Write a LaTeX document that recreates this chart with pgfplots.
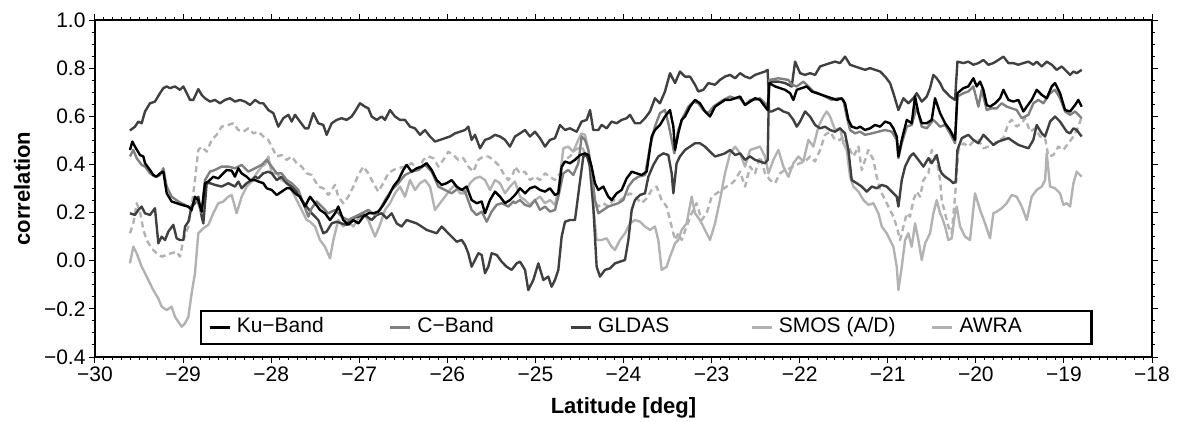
\documentclass[border=0pt]{standalone}
\usepackage{fontspec}
\setmainfont{Liberation Sans}
\usepackage{pgfplots}
\pgfplotsset{compat=1.18}
\definecolor{cK}{gray}{0}
\definecolor{cC}{gray}{0.5}
\definecolor{cG}{gray}{0.25}
\definecolor{cS}{gray}{0.7}
\begin{document}
\begin{tikzpicture}
\useasboundingbox (-95pt,-64pt) rectangle (1086pt,357pt);
\begin{axis}[
  at={(0pt,0pt)}, anchor=south west,
  scale only axis, width=1057pt, height=337pt,
  xmin=-30, xmax=-18, ymin=-0.4, ymax=1.0,
  xtick={-30,-29,...,-18},
  xticklabels={−30,−29,−28,−27,−26,−25,−24,−23,−22,−21,−20,−19,−18},
  ytick={-0.4,-0.2,0,0.2,0.4,0.6,0.8,1.0},
  yticklabels={−0.4,−0.2,0.0,0.2,0.4,0.6,0.8,1.0},
  minor x tick num=9, minor y tick num=3,
  tick align=outside, tick pos=both,
  major tick length=6pt, minor tick length=3pt,
  every tick/.style={black, line width=1pt},
  axis line style={line width=2.2pt},
  ticklabel style={font=\fontsize{21}{25}\selectfont},
  xlabel={Latitude [deg]},
  ylabel={correlation},
  xlabel style={font=\bfseries\fontsize{22}{26}\selectfont, at={(axis description cs:0.5,0)}, anchor=base, yshift=-56pt},
  ylabel style={font=\bfseries\fontsize{22}{26}\selectfont, at={(axis description cs:-0.0691,0.5)}, anchor=center},
  legend columns=5,
  legend cell align=left,
  legend image code/.code={\draw[#1, line width=3pt] (0pt,0pt) -- (20pt,0pt); \path (23pt,0pt);},
  legend style={at={(axis description cs:0.0993,0.0356)}, anchor=south west,
    draw=black, line width=2.2pt, inner xsep=7pt, inner ysep=4pt,
    font=\fontsize{21}{25}\selectfont, /tikz/column sep=0pt,
    nodes={inner sep=3pt, text height=15pt, text depth=4pt}},
  every axis plot/.append style={line width=2.4pt, line join=round},
]
% AWRA / SMOS light grey solid
\addplot[cS, forget plot] coordinates {(-29.603,-0.011) (-29.565,0.058) (-29.527,0.031) (-29.470,-0.025) (-29.432,-0.052) (-29.395,-0.080) (-29.338,-0.122) (-29.281,-0.157) (-29.243,-0.191) (-29.186,-0.205) (-29.130,-0.191) (-29.092,-0.233) (-29.054,-0.254) (-29.016,-0.274) (-28.978,-0.260) (-28.940,-0.233) (-28.903,-0.136) (-28.865,-0.052) (-28.827,0.114) (-28.770,0.135) (-28.713,0.149) (-28.657,0.197) (-28.600,0.239) (-28.543,0.246) (-28.486,0.266) (-28.448,0.273) (-28.392,0.197) (-28.335,0.266) (-28.278,0.308) (-28.221,0.329) (-28.165,0.363) (-28.108,0.391) (-28.070,0.400) (-28.032,0.433) (-27.994,0.363) (-27.937,0.363) (-27.881,0.335) (-27.824,0.322) (-27.767,0.294) (-27.710,0.252) (-27.654,0.211) (-27.597,0.169) (-27.559,0.162) (-27.502,0.142) (-27.446,0.086) (-27.389,0.058) (-27.332,0.010) (-27.294,0.086) (-27.238,0.169) (-27.181,0.142) (-27.124,0.162) (-27.067,0.142) (-27.010,0.176) (-26.954,0.197) (-26.897,0.169) (-26.821,0.100) (-26.765,0.149) (-26.708,0.211) (-26.651,0.239) (-26.594,0.280) (-26.537,0.308) (-26.481,0.266) (-26.424,0.335) (-26.367,0.294) (-26.310,0.322) (-26.254,0.335) (-26.197,0.308) (-26.140,0.211) (-26.083,0.239) (-26.027,0.266) (-25.970,0.294) (-25.913,0.315) (-25.856,0.280) (-25.799,0.280) (-25.743,0.322) (-25.686,0.342) (-25.629,0.349) (-25.572,0.335) (-25.516,0.294) (-25.459,0.335) (-25.402,0.322) (-25.345,0.280) (-25.289,0.308) (-25.232,0.329) (-25.175,0.266) (-25.118,0.252) (-25.062,0.232) (-25.005,0.252) (-24.948,0.266) (-24.891,0.239) (-24.835,0.252) (-24.778,0.232) (-24.740,0.294) (-24.683,0.467) (-24.627,0.474) (-24.570,0.453) (-24.513,0.502) (-24.475,0.529) (-24.437,0.523) (-24.399,0.460) (-24.362,0.294) (-24.305,0.086) (-24.248,0.086) (-24.191,0.093) (-24.135,0.058) (-24.097,0.045) (-24.040,0.086) (-23.983,0.114) (-23.926,0.155) (-23.870,0.169) (-23.813,0.162) (-23.756,0.142) (-23.699,0.128) (-23.643,0.142) (-23.605,0.086) (-23.567,-0.038) (-23.510,-0.025) (-23.472,0.017) (-23.415,0.072) (-23.378,0.086) (-23.340,0.128) (-23.283,0.155) (-23.226,0.266) (-23.188,0.197) (-23.132,0.169) (-23.075,0.128) (-23.018,0.086) (-22.961,0.155) (-22.905,0.252) (-22.848,0.363) (-22.790,0.446) (-22.733,0.474) (-22.677,0.446) (-22.620,0.391) (-22.563,0.460) (-22.506,0.467) (-22.450,0.474) (-22.393,0.433) (-22.355,0.363) (-22.298,0.419) (-22.241,0.460) (-22.185,0.391) (-22.128,0.349) (-22.071,0.405) (-22.014,0.433) (-21.958,0.412) (-21.901,0.502) (-21.844,0.474) (-21.787,0.557) (-21.731,0.599) (-21.693,0.620) (-21.655,0.599) (-21.598,0.543) (-21.541,0.550) (-21.504,0.488) (-21.466,0.460) (-21.428,0.349) (-21.390,0.308) (-21.333,0.287) (-21.276,0.252) (-21.220,0.232) (-21.163,0.239) (-21.106,0.197) (-21.068,0.142) (-21.012,0.114) (-20.974,0.086) (-20.936,0.058) (-20.898,-0.025) (-20.879,-0.122) (-20.841,-0.025) (-20.803,0.086) (-20.766,0.114) (-20.728,0.058) (-20.690,0.155) (-20.652,0.086) (-20.614,0.003) (-20.576,0.072) (-20.520,0.114) (-20.482,0.197) (-20.444,0.252) (-20.406,0.197) (-20.387,0.183) (-20.349,0.142) (-20.312,0.086) (-20.274,0.093) (-20.236,0.197) (-20.217,0.225) (-20.179,0.142) (-20.122,0.100) (-20.066,0.086) (-20.009,0.280) (-19.952,0.211) (-19.895,0.155) (-19.839,0.093) (-19.801,0.197) (-19.763,0.204) (-19.706,0.218) (-19.649,0.239) (-19.593,0.273) (-19.536,0.266) (-19.479,0.225) (-19.422,0.169) (-19.366,0.266) (-19.309,0.294) (-19.252,0.308) (-19.214,0.335) (-19.195,0.446) (-19.157,0.308) (-19.101,0.301) (-19.044,0.280) (-19.006,0.232) (-18.968,0.239) (-18.930,0.225) (-18.892,0.322) (-18.855,0.370) (-18.798,0.349)};
% SMOS light grey dashed
\addplot[cS, dash pattern=on 6pt off 4pt, forget plot] coordinates {(-29.603,0.114) (-29.565,0.155) (-29.527,0.239) (-29.489,0.204) (-29.451,0.128) (-29.413,0.086) (-29.357,0.051) (-29.300,0.031) (-29.243,0.017) (-29.186,0.024) (-29.130,0.031) (-29.073,0.038) (-29.035,0.017) (-28.997,0.086) (-28.940,0.142) (-28.903,0.225) (-28.865,0.335) (-28.827,0.460) (-28.789,0.474) (-28.732,0.453) (-28.675,0.502) (-28.619,0.523) (-28.562,0.557) (-28.486,0.564) (-28.429,0.571) (-28.373,0.543) (-28.316,0.536) (-28.259,0.550) (-28.202,0.529) (-28.146,0.536) (-28.089,0.516) (-28.032,0.502) (-27.994,0.474) (-27.937,0.433) (-27.881,0.439) (-27.824,0.419) (-27.767,0.433) (-27.710,0.405) (-27.654,0.391) (-27.597,0.363) (-27.540,0.356) (-27.465,0.308) (-27.408,0.301) (-27.351,0.273) (-27.275,0.315) (-27.238,0.266) (-27.181,0.239) (-27.124,0.266) (-27.067,0.308) (-27.010,0.356) (-26.954,0.391) (-26.897,0.363) (-26.840,0.322) (-26.783,0.287) (-26.727,0.322) (-26.670,0.363) (-26.613,0.377) (-26.556,0.384) (-26.481,0.391) (-26.405,0.405) (-26.329,0.377) (-26.273,0.419) (-26.216,0.433) (-26.159,0.426) (-26.102,0.391) (-26.045,0.419) (-25.989,0.453) (-25.932,0.439) (-25.875,0.419) (-25.818,0.426) (-25.762,0.391) (-25.705,0.370) (-25.648,0.419) (-25.591,0.433) (-25.535,0.433) (-25.478,0.419) (-25.421,0.398) (-25.364,0.363) (-25.308,0.335) (-25.251,0.363) (-25.232,0.391) (-25.175,0.363) (-25.118,0.370) (-25.062,0.335) (-25.005,0.349) (-24.948,0.335) (-24.891,0.363) (-24.835,0.349) (-24.778,0.335) (-24.721,0.363) (-24.664,0.419) (-24.608,0.433) (-24.551,0.460) (-24.475,0.474) (-24.437,0.446) (-24.399,0.439) (-24.343,0.252) (-24.286,0.225) (-24.229,0.239) (-24.173,0.225) (-24.116,0.252) (-24.059,0.246) (-23.983,0.266) (-23.926,0.280) (-23.870,0.266) (-23.794,0.239) (-23.737,0.259) (-23.680,0.294) (-23.624,0.308) (-23.567,0.252) (-23.510,0.225) (-23.453,0.142) (-23.415,0.086) (-23.378,0.114) (-23.340,0.086) (-23.283,0.142) (-23.226,0.197) (-23.170,0.239) (-23.113,0.169) (-23.056,0.197) (-22.999,0.266) (-22.942,0.280) (-22.886,0.294) (-22.829,0.308) (-22.790,0.315) (-22.733,0.335) (-22.677,0.370) (-22.620,0.308) (-22.563,0.391) (-22.506,0.363) (-22.450,0.433) (-22.393,0.363) (-22.336,0.335) (-22.279,0.322) (-22.223,0.363) (-22.166,0.377) (-22.109,0.384) (-22.052,0.398) (-21.995,0.405) (-21.939,0.412) (-21.882,0.433) (-21.825,0.412) (-21.768,0.460) (-21.712,0.523) (-21.655,0.536) (-21.598,0.502) (-21.541,0.502) (-21.504,0.516) (-21.447,0.474) (-21.390,0.433) (-21.333,0.474) (-21.295,0.377) (-21.220,0.460) (-21.163,0.419) (-21.125,0.349) (-21.087,0.294) (-21.049,0.266) (-20.993,0.225) (-20.936,0.183) (-20.898,0.142) (-20.860,0.086) (-20.822,0.142) (-20.784,0.197) (-20.747,0.183) (-20.709,0.252) (-20.671,0.287) (-20.633,0.266) (-20.595,0.335) (-20.538,0.363) (-20.501,0.460) (-20.444,0.419) (-20.406,0.335) (-20.387,0.252) (-20.349,0.197) (-20.312,0.142) (-20.274,0.114) (-20.236,0.266) (-20.198,0.460) (-20.141,0.488) (-20.085,0.474) (-20.028,0.495) (-19.971,0.502) (-19.914,0.467) (-19.857,0.474) (-19.801,0.481) (-19.744,0.502) (-19.687,0.509) (-19.630,0.571) (-19.593,0.585) (-19.536,0.557) (-19.479,0.571) (-19.441,0.592) (-19.384,0.536) (-19.328,0.550) (-19.271,0.516) (-19.214,0.509) (-19.176,0.433) (-19.120,0.439) (-19.063,0.474) (-19.006,0.460) (-18.949,0.488) (-18.892,0.516) (-18.836,0.557) (-18.798,0.599)};
% dark grey, lower then upper
\addplot[cG, forget plot] coordinates {(-29.603,0.197) (-29.546,0.190) (-29.508,0.211) (-29.470,0.225) (-29.432,0.197) (-29.376,0.190) (-29.319,0.218) (-29.281,0.072) (-29.243,0.100) (-29.205,0.086) (-29.167,0.121) (-29.111,0.149) (-29.073,0.093) (-29.035,0.086) (-28.997,0.086) (-28.978,0.142) (-28.940,0.162) (-28.903,0.225) (-28.865,0.239) (-28.827,0.266) (-28.789,0.183) (-28.770,0.155) (-28.732,0.322) (-28.694,0.322) (-28.638,0.315) (-28.562,0.308) (-28.486,0.322) (-28.411,0.308) (-28.373,0.329) (-28.335,0.301) (-28.278,0.322) (-28.221,0.335) (-28.183,0.349) (-28.146,0.342) (-28.089,0.363) (-28.032,0.370) (-27.994,0.363) (-27.937,0.335) (-27.881,0.349) (-27.824,0.322) (-27.767,0.308) (-27.710,0.287) (-27.654,0.252) (-27.597,0.225) (-27.540,0.197) (-27.465,0.169) (-27.408,0.114) (-27.370,0.121) (-27.313,0.155) (-27.256,0.162) (-27.200,0.155) (-27.143,0.149) (-27.086,0.176) (-27.010,0.183) (-26.935,0.190) (-26.859,0.169) (-26.802,0.190) (-26.746,0.197) (-26.689,0.176) (-26.632,0.197) (-26.575,0.155) (-26.519,0.142) (-26.462,0.169) (-26.405,0.162) (-26.348,0.155) (-26.292,0.142) (-26.235,0.128) (-26.178,0.121) (-26.121,0.114) (-26.064,0.142) (-26.008,0.121) (-25.951,0.100) (-25.894,0.079) (-25.837,0.086) (-25.799,0.065) (-25.762,0.031) (-25.724,-0.025) (-25.686,0.003) (-25.648,0.031) (-25.610,0.024) (-25.572,-0.052) (-25.535,-0.025) (-25.497,0.031) (-25.440,0.024) (-25.383,-0.004) (-25.327,-0.025) (-25.270,-0.038) (-25.213,-0.011) (-25.175,-0.004) (-25.118,-0.038) (-25.081,-0.122) (-25.024,-0.080) (-24.967,-0.011) (-24.910,-0.080) (-24.854,-0.066) (-24.816,-0.108) (-24.778,-0.080) (-24.740,-0.038) (-24.702,0.100) (-24.664,0.162) (-24.608,0.169) (-24.551,0.169) (-24.494,0.329) (-24.456,0.433) (-24.418,0.439) (-24.380,0.391) (-24.343,0.225) (-24.305,-0.025) (-24.267,-0.066) (-24.210,-0.038) (-24.154,-0.032) (-24.097,-0.011) (-24.040,-0.004) (-23.983,0.003) (-23.945,0.086) (-23.907,0.211) (-23.870,0.252) (-23.813,0.273) (-23.756,0.280) (-23.718,0.349) (-23.661,0.398) (-23.605,0.433) (-23.548,0.446) (-23.491,0.439) (-23.453,0.363) (-23.434,0.280) (-23.397,0.405) (-23.359,0.433) (-23.302,0.460) (-23.245,0.474) (-23.188,0.488) (-23.132,0.488) (-23.075,0.474) (-23.018,0.453) (-22.961,0.433) (-22.905,0.439) (-22.848,0.446) (-22.790,0.460) (-22.733,0.439) (-22.677,0.446) (-22.620,0.419) (-22.563,0.433) (-22.506,0.419) (-22.450,0.412) (-22.393,0.405) (-22.363,0.419) (-22.347,0.744) (-22.298,0.744) (-22.241,0.744) (-22.166,0.738) (-22.090,0.724) (-22.052,0.827) (-21.995,0.779) (-21.939,0.772) (-21.882,0.779) (-21.825,0.772) (-21.768,0.807) (-21.712,0.814) (-21.655,0.821) (-21.598,0.827) (-21.541,0.821) (-21.485,0.848) (-21.428,0.814) (-21.371,0.807) (-21.314,0.800) (-21.258,0.793) (-21.201,0.800) (-21.144,0.793) (-21.087,0.786) (-21.030,0.765) (-20.974,0.738) (-20.936,0.696) (-20.879,0.626) (-20.822,0.675) (-20.766,0.654) (-20.709,0.675) (-20.671,0.696) (-20.614,0.661) (-20.557,0.682) (-20.520,0.717) (-20.482,0.772) (-20.444,0.758) (-20.406,0.738) (-20.368,0.710) (-20.330,0.696) (-20.293,0.682) (-20.236,0.668) (-20.209,0.827) (-20.141,0.821) (-20.085,0.827) (-20.028,0.814) (-19.971,0.821) (-19.914,0.834) (-19.857,0.814) (-19.801,0.821) (-19.744,0.834) (-19.687,0.848) (-19.630,0.821) (-19.574,0.821) (-19.517,0.814) (-19.460,0.821) (-19.403,0.827) (-19.347,0.814) (-19.309,0.827) (-19.252,0.807) (-19.195,0.827) (-19.138,0.814) (-19.082,0.793) (-19.025,0.807) (-18.968,0.786) (-18.930,0.772) (-18.892,0.786) (-18.855,0.779) (-18.798,0.793)};
% GLDAS dark grey, upper then lower
\addplot[cG, forget plot] coordinates {(-29.603,0.541) (-29.546,0.557) (-29.508,0.578) (-29.470,0.571) (-29.432,0.620) (-29.376,0.654) (-29.319,0.661) (-29.262,0.696) (-29.224,0.717) (-29.186,0.724) (-29.148,0.717) (-29.092,0.724) (-29.035,0.710) (-28.997,0.724) (-28.959,0.696) (-28.921,0.668) (-28.884,0.668) (-28.827,0.713) (-28.789,0.689) (-28.751,0.675) (-28.694,0.661) (-28.638,0.668) (-28.581,0.654) (-28.524,0.668) (-28.467,0.675) (-28.411,0.661) (-28.354,0.668) (-28.297,0.661) (-28.240,0.647) (-28.183,0.668) (-28.127,0.654) (-28.089,0.654) (-28.032,0.626) (-27.975,0.613) (-27.919,0.557) (-27.862,0.592) (-27.805,0.606) (-27.767,0.578) (-27.729,0.606) (-27.673,0.578) (-27.616,0.550) (-27.578,0.550) (-27.521,0.613) (-27.465,0.571) (-27.408,0.564) (-27.370,0.523) (-27.313,0.571) (-27.256,0.585) (-27.200,0.592) (-27.143,0.585) (-27.086,0.599) (-27.048,0.620) (-26.992,0.654) (-26.935,0.640) (-26.897,0.633) (-26.859,0.599) (-26.802,0.585) (-26.746,0.599) (-26.708,0.585) (-26.651,0.626) (-26.594,0.599) (-26.537,0.585) (-26.481,0.585) (-26.424,0.557) (-26.367,0.550) (-26.310,0.523) (-26.254,0.543) (-26.197,0.516) (-26.140,0.495) (-26.083,0.502) (-26.027,0.509) (-25.970,0.516) (-25.913,0.529) (-25.856,0.536) (-25.799,0.543) (-25.762,0.557) (-25.724,0.502) (-25.686,0.523) (-25.629,0.467) (-25.572,0.502) (-25.516,0.509) (-25.459,0.523) (-25.402,0.516) (-25.345,0.502) (-25.289,0.474) (-25.232,0.516) (-25.175,0.529) (-25.118,0.543) (-25.062,0.516) (-25.005,0.536) (-24.948,0.509) (-24.891,0.474) (-24.835,0.502) (-24.778,0.509) (-24.721,0.564) (-24.664,0.543) (-24.608,0.550) (-24.532,0.536) (-24.475,0.578) (-24.418,0.585) (-24.380,0.626) (-24.343,0.543) (-24.286,0.543) (-24.248,0.564) (-24.191,0.550) (-24.135,0.578) (-24.078,0.571) (-24.021,0.585) (-23.964,0.592) (-23.926,0.606) (-23.870,0.571) (-23.813,0.571) (-23.756,0.592) (-23.699,0.620) (-23.643,0.675) (-23.586,0.654) (-23.529,0.703) (-23.472,0.779) (-23.415,0.738) (-23.359,0.786) (-23.302,0.765) (-23.245,0.765) (-23.188,0.731) (-23.151,0.703) (-23.094,0.710) (-23.037,0.738) (-22.961,0.731) (-22.905,0.751) (-22.848,0.765) (-22.790,0.772) (-22.733,0.758) (-22.677,0.779) (-22.620,0.765) (-22.563,0.758) (-22.506,0.772) (-22.450,0.779) (-22.393,0.786) (-22.363,0.793) (-22.347,0.620) (-22.317,0.620) (-22.241,0.633) (-22.185,0.620) (-22.128,0.613) (-22.071,0.585) (-22.033,0.557) (-21.995,0.578) (-21.939,0.620) (-21.882,0.599) (-21.825,0.564) (-21.768,0.550) (-21.712,0.557) (-21.655,0.543) (-21.598,0.536) (-21.541,0.550) (-21.485,0.529) (-21.447,0.460) (-21.409,0.335) (-21.352,0.322) (-21.295,0.308) (-21.239,0.287) (-21.182,0.308) (-21.125,0.301) (-21.068,0.315) (-21.012,0.308) (-20.955,0.287) (-20.898,0.266) (-20.879,0.225) (-20.841,0.335) (-20.803,0.391) (-20.747,0.433) (-20.709,0.446) (-20.652,0.419) (-20.595,0.391) (-20.538,0.426) (-20.501,0.405) (-20.444,0.439) (-20.406,0.377) (-20.387,0.363) (-20.349,0.349) (-20.293,0.335) (-20.255,0.322) (-20.228,0.329) (-20.209,0.460) (-20.160,0.509) (-20.085,0.523) (-20.028,0.502) (-19.971,0.488) (-19.914,0.523) (-19.857,0.502) (-19.801,0.481) (-19.744,0.495) (-19.687,0.502) (-19.630,0.509) (-19.574,0.495) (-19.517,0.481) (-19.460,0.474) (-19.403,0.467) (-19.347,0.502) (-19.309,0.564) (-19.252,0.529) (-19.214,0.516) (-19.157,0.578) (-19.101,0.599) (-19.044,0.578) (-19.006,0.557) (-18.968,0.536) (-18.930,0.529) (-18.892,0.550) (-18.855,0.543) (-18.798,0.516)};
% C-Band
\addplot[cC, forget plot] coordinates {(-29.603,0.433) (-29.565,0.460) (-29.527,0.426) (-29.470,0.398) (-29.432,0.391) (-29.376,0.363) (-29.319,0.349) (-29.262,0.356) (-29.224,0.384) (-29.186,0.308) (-29.130,0.266) (-29.054,0.246) (-28.978,0.232) (-28.921,0.218) (-28.865,0.252) (-28.827,0.239) (-28.789,0.197) (-28.751,0.335) (-28.694,0.370) (-28.638,0.377) (-28.562,0.391) (-28.486,0.391) (-28.411,0.384) (-28.335,0.398) (-28.259,0.370) (-28.183,0.384) (-28.108,0.398) (-28.051,0.419) (-27.994,0.391) (-27.937,0.363) (-27.881,0.363) (-27.824,0.335) (-27.767,0.322) (-27.692,0.294) (-27.635,0.239) (-27.578,0.183) (-27.540,0.218) (-27.484,0.246) (-27.427,0.225) (-27.351,0.197) (-27.275,0.211) (-27.200,0.183) (-27.124,0.169) (-27.048,0.183) (-26.973,0.197) (-26.897,0.211) (-26.821,0.190) (-26.765,0.211) (-26.708,0.252) (-26.632,0.294) (-26.556,0.322) (-26.481,0.356) (-26.405,0.370) (-26.329,0.377) (-26.254,0.398) (-26.178,0.370) (-26.102,0.308) (-26.027,0.294) (-25.951,0.280) (-25.875,0.301) (-25.799,0.287) (-25.724,0.211) (-25.667,0.190) (-25.610,0.204) (-25.553,0.162) (-25.497,0.204) (-25.440,0.232) (-25.383,0.239) (-25.308,0.225) (-25.251,0.246) (-25.232,0.239) (-25.175,0.252) (-25.118,0.232) (-25.062,0.225) (-25.005,0.252) (-24.948,0.211) (-24.891,0.225) (-24.835,0.204) (-24.778,0.211) (-24.740,0.266) (-24.683,0.363) (-24.627,0.377) (-24.570,0.356) (-24.513,0.405) (-24.475,0.516) (-24.437,0.502) (-24.399,0.460) (-24.362,0.377) (-24.324,0.252) (-24.286,0.197) (-24.229,0.211) (-24.173,0.225) (-24.116,0.232) (-24.059,0.239) (-24.002,0.252) (-23.945,0.308) (-23.889,0.335) (-23.832,0.349) (-23.756,0.356) (-23.699,0.474) (-23.643,0.557) (-23.586,0.613) (-23.529,0.626) (-23.491,0.571) (-23.453,0.502) (-23.423,0.446) (-23.378,0.543) (-23.321,0.599) (-23.264,0.640) (-23.207,0.661) (-23.151,0.654) (-23.094,0.626) (-23.037,0.613) (-22.980,0.640) (-22.924,0.654) (-22.867,0.668) (-22.791,0.682) (-22.733,0.675) (-22.677,0.675) (-22.620,0.647) (-22.563,0.668) (-22.506,0.668) (-22.450,0.675) (-22.393,0.654) (-22.363,0.640) (-22.344,0.751) (-22.241,0.758) (-22.128,0.751) (-22.090,0.731) (-22.033,0.724) (-21.958,0.744) (-21.901,0.724) (-21.844,0.703) (-21.787,0.696) (-21.712,0.682) (-21.636,0.668) (-21.560,0.675) (-21.504,0.668) (-21.466,0.599) (-21.428,0.543) (-21.371,0.529) (-21.314,0.536) (-21.258,0.523) (-21.182,0.529) (-21.106,0.536) (-21.030,0.543) (-20.955,0.536) (-20.898,0.502) (-20.879,0.426) (-20.841,0.488) (-20.784,0.557) (-20.728,0.564) (-20.671,0.640) (-20.614,0.557) (-20.557,0.550) (-20.482,0.585) (-20.406,0.557) (-20.349,0.564) (-20.293,0.529) (-20.236,0.488) (-20.209,0.682) (-20.141,0.696) (-20.085,0.703) (-20.028,0.724) (-19.971,0.640) (-19.933,0.710) (-19.876,0.626) (-19.820,0.633) (-19.763,0.633) (-19.706,0.654) (-19.649,0.640) (-19.593,0.633) (-19.536,0.626) (-19.479,0.592) (-19.403,0.606) (-19.347,0.654) (-19.290,0.668) (-19.233,0.654) (-19.157,0.696) (-19.101,0.710) (-19.044,0.675) (-18.987,0.620) (-18.930,0.606) (-18.873,0.620) (-18.798,0.592)};
% Ku-Band
\addplot[cK, forget plot] coordinates {(-29.603,0.460) (-29.576,0.495) (-29.546,0.474) (-29.489,0.439) (-29.451,0.433) (-29.432,0.405) (-29.376,0.377) (-29.338,0.356) (-29.300,0.349) (-29.262,0.363) (-29.224,0.370) (-29.186,0.280) (-29.130,0.246) (-29.073,0.239) (-29.016,0.232) (-28.940,0.225) (-28.903,0.211) (-28.865,0.266) (-28.827,0.252) (-28.789,0.204) (-28.751,0.322) (-28.713,0.329) (-28.657,0.349) (-28.600,0.342) (-28.543,0.363) (-28.505,0.377) (-28.448,0.374) (-28.411,0.349) (-28.373,0.384) (-28.335,0.363) (-28.278,0.349) (-28.240,0.335) (-28.183,0.335) (-28.146,0.329) (-28.089,0.322) (-28.051,0.301) (-27.994,0.294) (-27.937,0.273) (-27.881,0.287) (-27.824,0.301) (-27.786,0.301) (-27.729,0.280) (-27.673,0.266) (-27.616,0.225) (-27.559,0.266) (-27.502,0.239) (-27.446,0.211) (-27.389,0.197) (-27.332,0.169) (-27.275,0.197) (-27.238,0.225) (-27.181,0.169) (-27.124,0.149) (-27.067,0.169) (-27.010,0.155) (-26.954,0.183) (-26.897,0.197) (-26.840,0.197) (-26.783,0.204) (-26.727,0.232) (-26.670,0.266) (-26.613,0.308) (-26.556,0.335) (-26.500,0.377) (-26.462,0.398) (-26.405,0.370) (-26.348,0.384) (-26.292,0.391) (-26.235,0.405) (-26.178,0.377) (-26.121,0.335) (-26.064,0.315) (-26.008,0.322) (-25.951,0.335) (-25.894,0.308) (-25.837,0.294) (-25.781,0.308) (-25.724,0.252) (-25.667,0.239) (-25.610,0.246) (-25.572,0.197) (-25.516,0.252) (-25.459,0.287) (-25.402,0.266) (-25.345,0.239) (-25.289,0.252) (-25.232,0.273) (-25.175,0.301) (-25.118,0.280) (-25.062,0.301) (-25.005,0.308) (-24.948,0.294) (-24.891,0.287) (-24.835,0.301) (-24.778,0.273) (-24.740,0.280) (-24.702,0.391) (-24.664,0.412) (-24.608,0.405) (-24.551,0.419) (-24.494,0.439) (-24.437,0.446) (-24.399,0.439) (-24.362,0.391) (-24.324,0.322) (-24.286,0.294) (-24.229,0.308) (-24.173,0.266) (-24.135,0.252) (-24.078,0.280) (-24.021,0.294) (-23.964,0.342) (-23.907,0.370) (-23.851,0.363) (-23.794,0.356) (-23.737,0.370) (-23.680,0.516) (-23.643,0.543) (-23.586,0.564) (-23.529,0.599) (-23.472,0.626) (-23.434,0.557) (-23.415,0.460) (-23.378,0.529) (-23.340,0.585) (-23.302,0.599) (-23.245,0.640) (-23.188,0.668) (-23.132,0.654) (-23.075,0.620) (-23.018,0.599) (-22.961,0.640) (-22.905,0.654) (-22.848,0.668) (-22.790,0.668) (-22.733,0.675) (-22.677,0.682) (-22.620,0.647) (-22.563,0.661) (-22.506,0.675) (-22.450,0.668) (-22.393,0.640) (-22.363,0.626) (-22.344,0.738) (-22.279,0.724) (-22.223,0.717) (-22.166,0.710) (-22.109,0.696) (-22.071,0.668) (-22.033,0.710) (-21.977,0.717) (-21.920,0.724) (-21.863,0.703) (-21.806,0.696) (-21.750,0.689) (-21.693,0.682) (-21.636,0.675) (-21.579,0.668) (-21.523,0.675) (-21.485,0.654) (-21.447,0.585) (-21.409,0.557) (-21.352,0.550) (-21.314,0.557) (-21.258,0.543) (-21.201,0.550) (-21.144,0.564) (-21.087,0.557) (-21.030,0.578) (-20.974,0.571) (-20.936,0.550) (-20.898,0.516) (-20.879,0.433) (-20.841,0.502) (-20.784,0.585) (-20.728,0.571) (-20.690,0.682) (-20.652,0.613) (-20.614,0.571) (-20.557,0.571) (-20.501,0.585) (-20.463,0.675) (-20.406,0.613) (-20.349,0.571) (-20.293,0.543) (-20.236,0.502) (-20.209,0.696) (-20.141,0.717) (-20.085,0.724) (-20.028,0.758) (-19.990,0.724) (-19.952,0.744) (-19.914,0.710) (-19.876,0.647) (-19.839,0.640) (-19.782,0.654) (-19.725,0.675) (-19.687,0.710) (-19.630,0.668) (-19.574,0.661) (-19.517,0.668) (-19.460,0.620) (-19.422,0.640) (-19.366,0.668) (-19.309,0.710) (-19.252,0.689) (-19.195,0.675) (-19.138,0.724) (-19.101,0.738) (-19.044,0.696) (-18.987,0.626) (-18.930,0.620) (-18.873,0.647) (-18.836,0.668) (-18.798,0.640)};
\addlegendimage{cK}
\addlegendentry{\makebox[149pt][l]{Ku−Band}}
\addlegendimage{cC}
\addlegendentry{\makebox[149pt][l]{C−Band}}
\addlegendimage{cG}
\addlegendentry{\makebox[149pt][l]{GLDAS}}
\addlegendimage{cS}
\addlegendentry{\makebox[149pt][l]{SMOS (A/D)}}
\addlegendimage{cS}
\addlegendentry{\makebox[122pt][l]{AWRA}}
\end{axis}
\end{tikzpicture}
\end{document}
